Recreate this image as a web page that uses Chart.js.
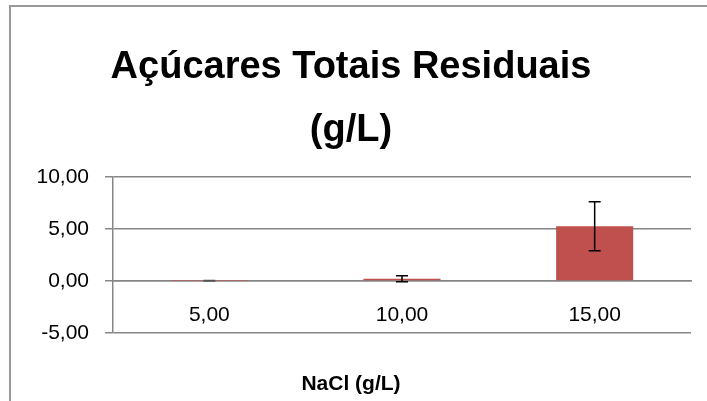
<!DOCTYPE html>
<html lang="pt-BR">
<head>
  <meta charset="UTF-8">
  <title>Açúcares Totais Residuais</title>
  <script src="https://cdn.jsdelivr.net/npm/chart.js@4.4.0/dist/chart.umd.min.js"></script>
  <style>
    body { margin: 0; background: #fff; }
    #wrap { position: absolute; left: 9px; top: 5px; width: 696px; height: 394px;
            border-left: 2px solid #999; border-top: 2px solid #999; }
  </style>
</head>
<body>

<div id="wrap"><canvas id="myChart"></canvas></div>

<script>
// data
var categories = ["5,00", "10,00", "15,00"];
var sugarValues = [0.02, 0.22, 5.26];
var sugarErrors = [0.03, 0.29, 2.36];
var yTicks = [-5, 0, 5, 10];

var fontName = "'Liberation Sans', Arial, sans-serif";

// draws the error bars with the chart's own y scale
var errorBars = {
  id: 'errorBars',
  afterDatasetsDraw: function(chart) {
    var ctx = chart.ctx;
    var meta = chart.getDatasetMeta(0);
    var yScale = chart.scales.y;
    ctx.save();
    ctx.lineWidth = 1.5;
    meta.data.forEach(function(bar, i) {
      var x = bar.x;
      var top = yScale.getPixelForValue(sugarValues[i] + sugarErrors[i]);
      var bottom = yScale.getPixelForValue(sugarValues[i] - sugarErrors[i]);
      if (i == 0) ctx.strokeStyle = '#555'; else ctx.strokeStyle = '#000';
      ctx.beginPath();
      ctx.moveTo(x, top); ctx.lineTo(x, bottom);
      ctx.moveTo(x - 6, top); ctx.lineTo(x + 6, top);
      ctx.moveTo(x - 6, bottom); ctx.lineTo(x + 6, bottom);
      ctx.stroke();
    });
    ctx.restore();
  }
};

var ctx = document.getElementById('myChart');
var myChart = new Chart(ctx, {
  type: 'bar',
  data: {
    labels: categories,
    datasets: [{
      data: sugarValues,
      backgroundColor: '#C0504D',
      borderWidth: 0,
      barPercentage: 0.4,
      categoryPercentage: 1
    }]
  },
  options: {
    responsive: true,
    maintainAspectRatio: false,
    animation: false,
    layout: { padding: { right: 16 } },
    plugins: {
      legend: { display: false },
      tooltip: { enabled: false },
      title: {
        display: true,
        text: ['Açúcares Totais Residuais', '(g/L)'],
        color: '#000',
        font: { family: fontName, size: 38, weight: 'bold', lineHeight: 1.66 },
        padding: { top: 29, bottom: 15 }
      },
      subtitle: {
        display: true,
        position: 'bottom',
        text: 'NaCl (g/L)',
        color: '#000',
        font: { family: fontName, size: 21, weight: 'bold' },
        padding: { top: 39, bottom: 4 }
      }
    },
    scales: {
      x: {
        position: { y: 0 },
        grid: { display: false, drawTicks: false },
        border: { display: true, color: '#868686', width: 1.5 },
        ticks: { color: '#000', font: { family: fontName, size: 21 }, padding: 22 }
      },
      y: {
        min: -5,
        max: 10,
        afterBuildTicks: function(scale) {
          scale.ticks = yTicks.map(function(v) { return { value: v }; });
        },
        afterFit: function(scale) { scale.width = 102; },
        grid: { color: '#868686', lineWidth: 1.5, tickLength: 8 },
        border: { display: true, color: '#868686', width: 1.5 },
        ticks: {
          color: '#000',
          font: { family: fontName, size: 21 },
          padding: 16,
          callback: function(v) { return v.toFixed(2).replace('.', ','); }
        }
      }
    }
  },
  plugins: [errorBars]
});
</script>

</body>
</html>
